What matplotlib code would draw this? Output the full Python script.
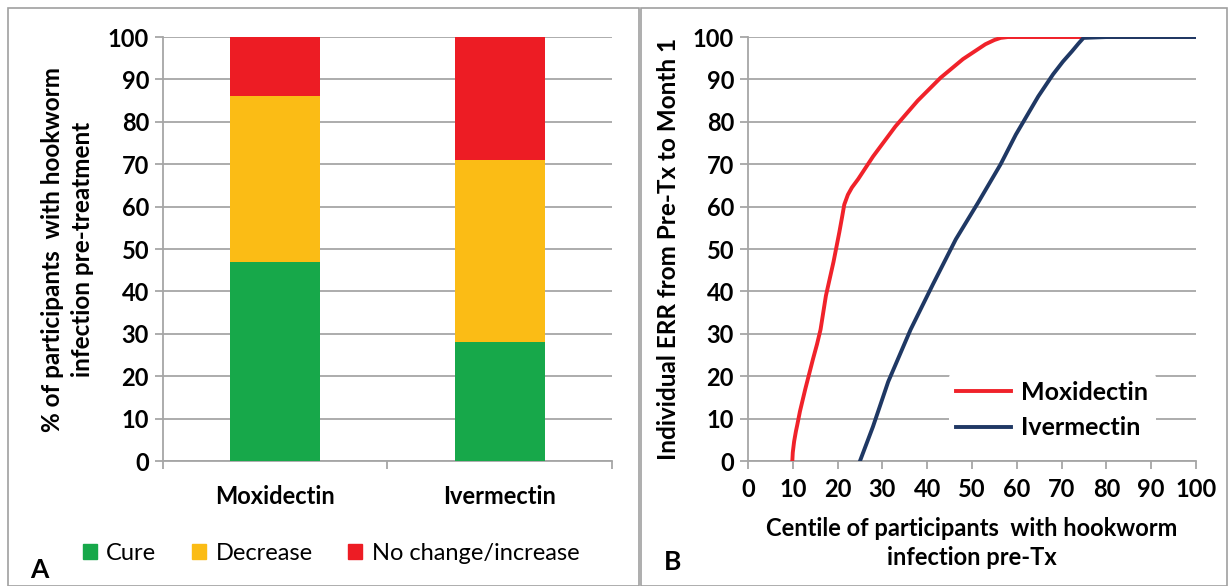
import numpy as np
import matplotlib
matplotlib.use('Agg')
from matplotlib import pyplot as plt
from matplotlib.patches import Patch, Rectangle

plt.rcParams['font.family'] = ['Lato', 'DejaVu Sans']

# panel A data
drugs = ['Moxidectin', 'Ivermectin']
cure = [47, 28]
decrease = [39, 43]
no_change = [14, 29]

# panel B data (centile, individual ERR)
moxi_x = [9.9, 10.0, 10.3, 10.7, 11.0, 11.6, 12.8, 14.5, 15.4, 16.2, 17.4, 19.1, 20.4, 21.0,
          21.5, 22.3, 23.2, 24.6, 27.9, 32.9, 37.9, 43.0, 48.0, 51.0, 53.0, 55.0, 56.4,
          58.0, 59.8, 70, 80, 90, 100]
moxi_y = [0, 2, 4.6, 7, 8.5, 11.7, 17, 24, 27.5, 31, 39, 47, 54, 57.5,
          60.5, 62.8, 64.5, 66.5, 71.8, 78.9, 85, 90.4, 94.8, 96.9, 98.3, 99.3, 99.8,
          100, 100, 100, 100, 100, 100]
iver_x = [25.0, 27.9, 31.3, 36.3, 41.3, 46.4, 51.4, 56.4, 59.8, 64.8, 68.1, 70.3, 72.3,
          73.8, 74.9, 80, 90, 100]
iver_y = [0, 8.1, 18.7, 31, 41.7, 52.3, 61, 70, 77, 86, 91.2, 94.2, 96.6,
          98.5, 99.8, 100, 100, 100]

green = '#17a84a'
yellow = '#fbbc15'
red = '#ed1c24'
navy = '#1f3864'
grid_c = '#a6a6a6'
fs = 17

fig = plt.figure(figsize=(12.28, 5.86), dpi=100)

# panel borders
fig.patches.append(Rectangle((8/1228, 0), 631/1228, 1 - 8/586, transform=fig.transFigure,
                             fill=False, edgecolor='#a0a0a0', lw=1.2))
fig.patches.append(Rectangle((641/1228, 0), 586/1228, 1 - 8/586, transform=fig.transFigure,
                             fill=False, edgecolor='#a0a0a0', lw=1.2))

# ---- panel A ----
axA = fig.add_axes([0.1327, 0.2133, 0.3657, 0.7235])
x = np.arange(len(drugs))
w = 0.4
axA.bar(x, cure, w, color=green, zorder=3)
axA.bar(x, decrease, w, bottom=cure, color=yellow, zorder=3)
axA.bar(x, no_change, w, bottom=np.array(cure) + np.array(decrease), color=red, zorder=3)
axA.set_xlim(-0.5, 1.5)
axA.set_ylim(0, 100)
axA.set_yticks(range(0, 101, 10))
axA.yaxis.grid(True, color=grid_c, lw=1.3)
axA.set_axisbelow(True)
axA.set_xticks(x)
axA.set_xticklabels(drugs, fontsize=fs, fontweight='bold')
axA.set_xticks([-0.5, 0.5, 1.5], minor=True)
axA.tick_params(axis='x', which='major', length=0, pad=17)
axA.tick_params(axis='x', which='minor', length=6, color=grid_c, width=1.3)
axA.tick_params(axis='y', length=6, color=grid_c, width=1.3, labelsize=fs, pad=4)
for lab in axA.get_yticklabels():
    lab.set_fontweight('bold')
for s in ['top', 'right']:
    axA.spines[s].set_visible(False)
for s in ['left', 'bottom']:
    axA.spines[s].set_color(grid_c)
    axA.spines[s].set_linewidth(1.3)
axA.set_ylabel('% of participants  with hookworm\ninfection pre-treatment',
               fontsize=fs + 0.5, fontweight='bold', labelpad=10, linespacing=1.35)

handles = [Patch(color=green), Patch(color=yellow), Patch(color=red)]
fig.legend(handles, ['Cure', 'Decrease', 'No change/increase'], ncol=3,
           loc='center', bbox_to_anchor=(331/1228, 1 - 553/586), frameon=False,
           fontsize=fs, handlelength=0.6, handleheight=0.6, columnspacing=1.5,
           handletextpad=0.4)
fig.text(30/1228, 1 - 570/586, 'A', fontsize=fs + 2, fontweight='bold', va='center')

# ---- panel B ----
axB = fig.add_axes([0.6091, 0.2133, 0.3648, 0.7235])
axB.plot(moxi_x, moxi_y, color='#f0222a', lw=2.8, label='Moxidectin', zorder=3,
         solid_joinstyle='round')
axB.plot(iver_x, iver_y, color=navy, lw=2.8, label='Ivermectin', zorder=3,
         solid_joinstyle='round')
axB.set_xlim(0, 100)
axB.set_ylim(0, 100)
axB.set_xticks(range(0, 101, 10))
axB.set_yticks(range(0, 101, 10))
axB.yaxis.grid(True, color=grid_c, lw=1.3)
axB.set_axisbelow(True)
axB.tick_params(axis='both', length=6, color=grid_c, width=1.3, labelsize=fs)
axB.tick_params(axis='x', pad=6)
axB.tick_params(axis='y', pad=4)
for lab in axB.get_xticklabels() + axB.get_yticklabels():
    lab.set_fontweight('bold')
for s in ['top', 'right']:
    axB.spines[s].set_visible(False)
for s in ['left', 'bottom']:
    axB.spines[s].set_color(grid_c)
    axB.spines[s].set_linewidth(1.3)
axB.set_ylabel('Individual ERR from Pre-Tx to Month 1', fontsize=fs + 0.5, fontweight='bold',
               labelpad=9)
axB.set_xlabel('Centile of participants  with hookworm\ninfection pre-Tx', fontsize=fs,
               fontweight='bold', labelpad=12, linespacing=1.3)
leg = axB.legend(loc='center', bbox_to_anchor=(1052/1228, 1 - 410/586),
                 bbox_transform=fig.transFigure, fontsize=fs + 1, frameon=True,
                 handlelength=2.2, handletextpad=0.4, labelspacing=0.5,
                 borderpad=0.3)
leg.get_frame().set_edgecolor('none')
leg.get_frame().set_facecolor('white')
leg.get_frame().set_alpha(1)
for t in leg.get_texts():
    t.set_fontweight('bold')
fig.text(664/1228, 1 - 562/586, 'B', fontsize=fs + 2, fontweight='bold', va='center')

fig.savefig('out.png', dpi=100)
